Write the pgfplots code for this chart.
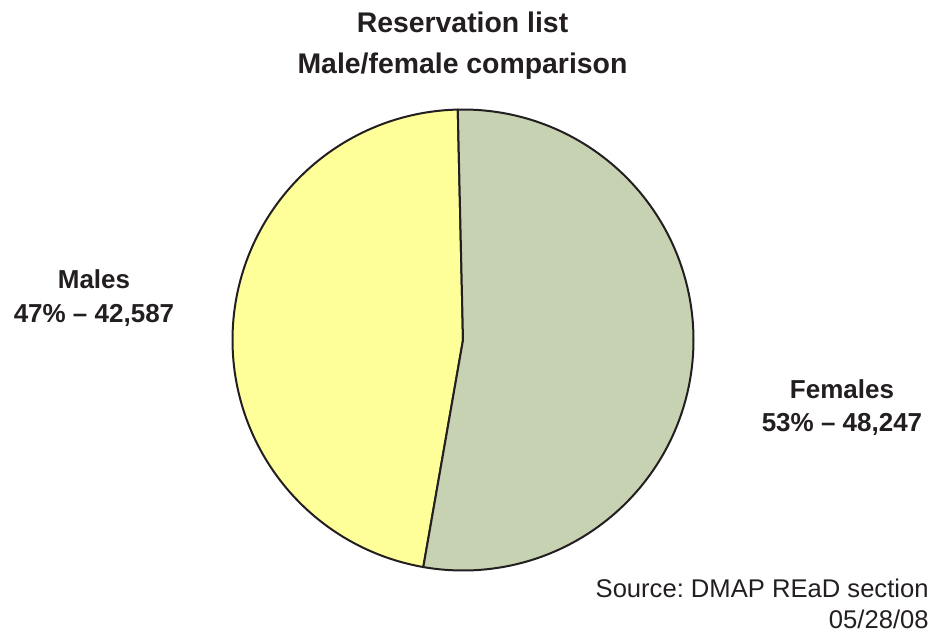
\documentclass[border=0pt]{standalone}
\usepackage{pgfplots}
\pgfplotsset{compat=1.18}
\usepackage{pgfplotstable}
\usepackage{fontspec}
\setmainfont{Liberation Sans}
\definecolor{maleyellow}{RGB}{255,255,153}
\definecolor{femalegreen}{RGB}{198,210,178}
\definecolor{txt}{RGB}{35,31,32}
\pgfplotstableread{
label value
Males 42587
Females 48247
}\piedata
\frenchspacing
\begin{document}
\begin{tikzpicture}[x=0.5pt,y=0.5pt]
\path[use as bounding box] (0,0) rectangle (932,634);
\pgfplotstablegetelem{0}{value}\of\piedata \edef\vm{\pgfplotsretval}
\pgfplotstablegetelem{1}{value}\of\piedata \edef\vf{\pgfplotsretval}
\edef\aS{91.3}
\edef\aM{\fpeval{\aS+360*\vm/(\vm+\vf)}}
\edef\aE{\fpeval{\aS+360}}
\begin{axis}[
  at={(231.5pt,147pt)}, anchor=center,
  width=230.5pt, height=230.5pt, scale only axis,
  xmin=-1, xmax=1, ymin=-1, ymax=1,
  hide axis, clip=false,
]
\addplot[fill=maleyellow, draw=txt, line width=1pt, domain=\aS:\aM, samples=200, line join=round]
  ({cos(x)},{sin(x)}) -- (axis cs:0,0) -- cycle;
\addplot[fill=femalegreen, draw=txt, line width=1pt, domain=\aM:\aE, samples=200, line join=round]
  ({cos(x)},{sin(x)}) -- (axis cs:0,0) -- cycle;
\end{axis}
\begin{scope}[every node/.style={inner sep=0pt, text=txt}]
\node[anchor=base, font=\fontsize{14.2pt}{16pt}\selectfont\bfseries] at (462.5,602) {Reservation list};
\node[anchor=base, font=\fontsize{14.2pt}{16pt}\selectfont\bfseries] at (462.5,561) {Male/female comparison};
\node[anchor=base, font=\fontsize{13pt}{15pt}\selectfont\bfseries] at (94,346) {Males};
\node[anchor=base, font=\fontsize{13pt}{15pt}\selectfont\bfseries] at (94,312) {47\% – 42,587};
\node[anchor=base, font=\fontsize{13pt}{15pt}\selectfont\bfseries] at (842,236) {Females};
\node[anchor=base, font=\fontsize{13pt}{15pt}\selectfont\bfseries] at (842,203) {53\% – 48,247};
\node[anchor=base east, font=\fontsize{12.8pt}{15pt}\selectfont] at (929,37) {Source: DMAP REaD section};
\node[anchor=base east, font=\fontsize{12.8pt}{15pt}\selectfont] at (929,6) {05/28/08};
\end{scope}
\end{tikzpicture}
\end{document}
